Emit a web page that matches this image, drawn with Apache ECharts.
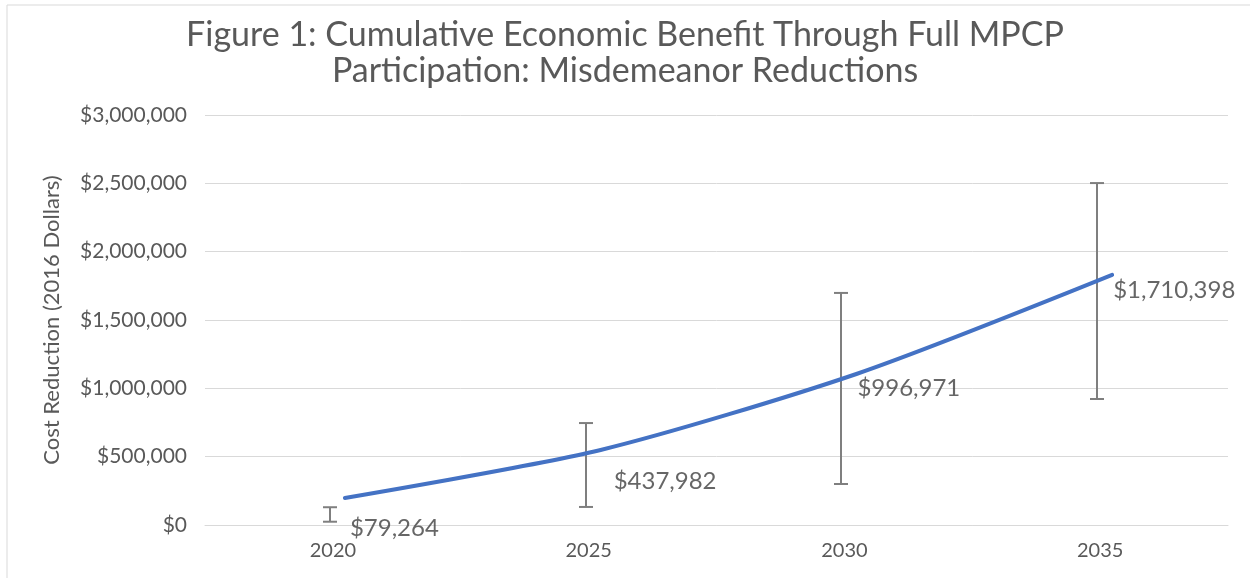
<!DOCTYPE html>
<html>
<head>
<meta charset="utf-8">
<script src="https://cdn.jsdelivr.net/npm/echarts@6/dist/echarts.min.js"></script>
<style>html,body{margin:0;padding:0;background:#fff;}#c{width:1250px;height:578px;}</style>
</head>
<body>
<div id="c"></div>
<script>
const categories = ['2020', '2025', '2030', '2035'];
const lineValues = [198000, 549000, 1105000, 1830000];
const errLow = [24000, 132000, 300000, 922000];
const errHigh = [130000, 746000, 1698000, 2502000];
const labelValues = [79264, 437982, 996971, 1710398];
const labelTexts = ['$79,264', '$437,982', '$996,971', '$1,710,398'];
const yTicks = [0, 500000, 1000000, 1500000, 2000000, 2500000, 3000000];
const titleText = 'Figure 1: Cumulative Economic Benefit Through Full MPCP\nParticipation: Misdemeanor Reductions';
const yName = 'Cost Reduction (2016 Dollars)';

const labelOffsets = [[17, 14], [25, 16], [13, 0], [13, -1]];
const FONT = 'Lato';
const TXT = '#595959';

function fmt(v) { return '$' + v.toLocaleString('en-US'); }

const chart = echarts.init(document.getElementById('c'), null, {renderer: 'canvas'});
const yCommon = {min: yTicks[0], max: yTicks[yTicks.length - 1], interval: yTicks[1] - yTicks[0]};

chart.setOption({
  animation: false,
  backgroundColor: '#fff',
  textStyle: {fontFamily: FONT},
  title: {
    text: titleText, left: 'center', top: 12,
    textStyle: {fontFamily: FONT, fontSize: 34, fontWeight: 'normal', color: TXT, lineHeight: 36}
  },
  graphic: [{type: 'rect', shape: {x: 7, y: 5, width: 1260, height: 600}, style: {fill: 'none', stroke: '#d9d9d9', lineWidth: 1}, silent: true}],
  grid: [
    {left: 205, right: 22, top: 115, bottom: 53},
    {left: 217, right: 10, top: 115, bottom: 53}
  ],
  xAxis: [
    {type: 'category', gridIndex: 0, data: categories, boundaryGap: true,
     axisLine: {lineStyle: {color: '#d9d9d9', width: 1}}, axisTick: {show: false},
     axisLabel: {fontFamily: FONT, fontSize: 20, color: TXT, margin: 16}},
    {type: 'category', gridIndex: 1, data: categories, boundaryGap: true, show: false}
  ],
  yAxis: [
    Object.assign({type: 'value', gridIndex: 0, name: yName, nameLocation: 'middle', nameGap: 142,
      nameTextStyle: {fontFamily: FONT, fontSize: 22, color: TXT},
      axisLine: {show: false}, axisTick: {show: false},
      splitLine: {lineStyle: {color: '#d9d9d9', width: 1}},
      axisLabel: {fontFamily: FONT, fontSize: 21, color: TXT, margin: 18, formatter: fmt}}, yCommon),
    Object.assign({type: 'value', gridIndex: 1, show: false, splitLine: {show: false}}, yCommon)
  ],
  series: [
    {
      type: 'custom', xAxisIndex: 0, yAxisIndex: 0, z: 3,
      data: categories.map((c, i) => [i, errLow[i], errHigh[i]]),
      renderItem: function (params, api) {
        const lo = api.coord([api.value(0), api.value(1)]);
        const hi = api.coord([api.value(0), api.value(2)]);
        const x = Math.round(lo[0]) - 3;
        const w = 7;
        const st = {stroke: '#7f7f7f', lineWidth: 2};
        return {type: 'group', children: [
          {type: 'line', shape: {x1: x, y1: lo[1], x2: x, y2: hi[1]}, style: st},
          {type: 'line', shape: {x1: x - w, y1: lo[1], x2: x + w, y2: lo[1]}, style: st},
          {type: 'line', shape: {x1: x - w, y1: hi[1], x2: x + w, y2: hi[1]}, style: st}
        ]};
      }
    },
    {
      type: 'line', xAxisIndex: 1, yAxisIndex: 1, data: lineValues, smooth: 0.25,
      showSymbol: false, symbol: 'none', z: 4,
      lineStyle: {color: '#4472C4', width: 4, cap: 'round'}
    },
    {
      type: 'scatter', xAxisIndex: 0, yAxisIndex: 0, symbolSize: 0, z: 5,
      data: labelValues.map((v, i) => ({
        value: [i, v],
        label: {show: true, position: 'right', distance: 0, offset: labelOffsets[i],
          formatter: labelTexts[i], fontFamily: FONT, fontSize: 24, color: '#404040'}
      }))
    }
  ]
});
</script>
</body>
</html>
